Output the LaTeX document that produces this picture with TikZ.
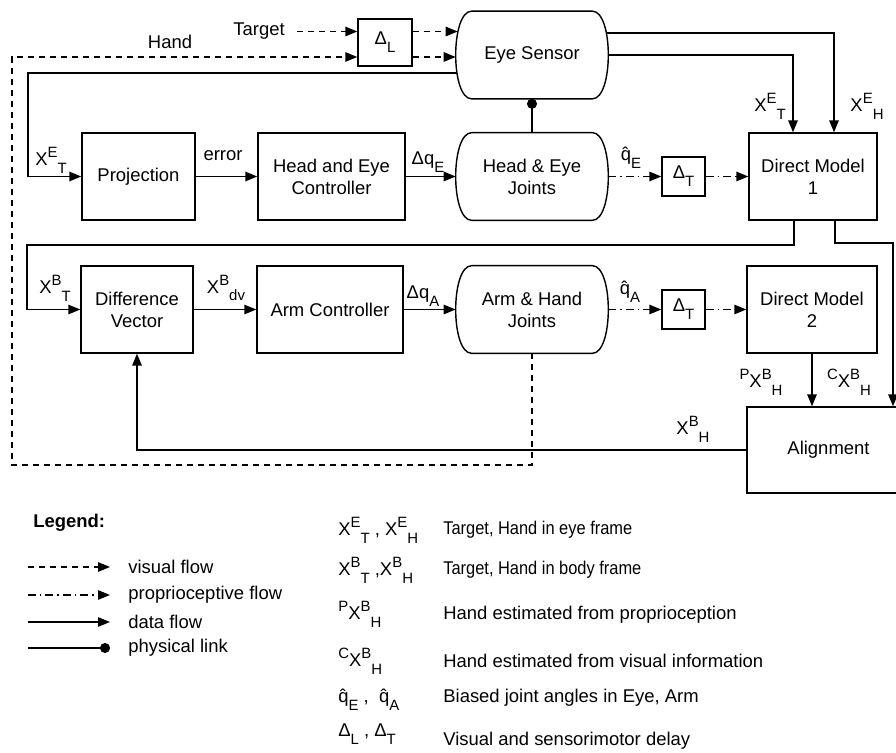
\documentclass[tikz,border=0pt]{standalone}
\usepackage{fontspec}
\setmainfont{Liberation Sans}
\usepackage{tikz}
\usetikzlibrary{arrows.meta,calc}

% raised and lowered indices, as in the figure
\newcommand{\supx}[1]{\raisebox{4.5pt}{\fontsize{8.5}{9}\selectfont #1}}
\newcommand{\subx}[1]{\raisebox{-4.5pt}{\fontsize{8.5}{9}\selectfont #1}}
% outline of a joint block: flat top and bottom, bulging sides
\newcommand{\jointedge}[1]{%
	\draw[line width=0.8pt] ($(#1.north west)+(16,0)$) -- ($(#1.north east)+(-16,0)$)
		.. controls +(21.3,0) and +(21.3,0) .. ($(#1.south east)+(-16,0)$)
		-- ($(#1.south west)+(16,0)$)
		.. controls +(-21.3,0) and +(-21.3,0) .. ($(#1.north west)+(16,0)$);}

\tikzset{
	block/.style={draw, line width=0.8pt, minimum height=1.74cm, inner sep=0pt, align=center},
	joint/.style={minimum width=3.04cm, minimum height=1.74cm, inner sep=0pt, align=center},
	delay/.style={draw, line width=0.8pt, minimum width=0.86cm, minimum height=0.78cm, inner sep=0pt},
	lbl/.style={inner sep=0pt},
	arrowtip/.style={-{Triangle[length=0.24cm,width=0.19cm]}},
	dataflow/.style={line width=0.8pt, arrowtip},
	visflow/.style={dataflow, dash pattern=on 0.12cm off 0.1cm},
	propflow/.style={dataflow, dash pattern=on 0.16cm off 0.08cm on 0.03cm off 0.08cm},
	physlink/.style={line width=0.8pt, -{Circle[length=0.2cm]}},
}

\begin{document}
\begin{tikzpicture}[x=0.02cm, y=-0.02cm, font=\fontsize{10.5}{12.6}\selectfont]
		\useasboundingbox (0,0) rectangle (896,753);
		\clip (0,0) rectangle (896,753);
		
		% eye loop
		\node[delay, minimum width=1.08cm, minimum height=0.94cm] (dl) at (385,42.5) {Δ\subx{L}};
		\node[joint] (es) at (532,55) {Eye Sensor};
		\node[block, minimum width=2.26cm] (proj) at (138.5,176.5) {Projection};
		\node[block, minimum width=2.94cm] (hec) at (331.5,176.5) {Head and Eye\\Controller};
		\node[joint] (hej) at (532,176.5) {Head \& Eye\\Joints};
		\node[delay] (dt1) at (683.5,176.5) {Δ\subx{T}};
		\node[block, minimum width=2.56cm] (dm1) at (813,176.5) {Direct Model\\1};
		
		% arm loop
		\node[block, minimum width=2.24cm] (dv) at (137,309.5) {Difference\\Vector};
		\node[block, minimum width=2.92cm] (ac) at (330,309.5) {Arm Controller};
		\node[joint] (ahj) at (532,309.5) {Arm \& Hand\\Joints};
		\node[delay] (dt2) at (683.5,309.5) {Δ\subx{T}};
		\node[block, minimum width=2.6cm] (dm2) at (812,309.5) {Direct Model\\2};
		\node[block, minimum width=3.26cm, minimum height=1.72cm] (align) at (828.5,450) {Alignment};
		\jointedge{es}
		\jointedge{hej}
		\jointedge{ahj}
		
		% inputs
		\node[lbl] (target) at (259,31.5) {Target};
		\node[lbl] (hand) at (170,42) {Hand};
		\coordinate (hdl) at (12,57);
		\coordinate (vbot) at (12,465);
		\draw[visflow] ($(target.east)+(12,0)$) -- (target -| dl.west);
		\draw[visflow] (target -| dl.east) -- ($(target -| es.west)+(2,0)$);
		\draw[visflow] (ahj.south) |- (vbot) -- (hdl) -- (hdl -| dl.west);
		\draw[visflow] (hdl -| dl.east) -- (hdl -| es.west);
		
		% eye sensor outputs
		\coordinate (ltop) at (28,73);
		\draw[dataflow] ($(ltop -| es.west)+(1,0)$) -- (ltop) |- (proj.west);
		\draw[dataflow] (es.east) -| ($(dm1.north)+(-20,0)$);
		\draw[dataflow] ($(es.east)+(-2.5,-22)$) -| ($(dm1.north)+(21,0)$);
		\draw[physlink] (hej.north) -- (hej.north |- es.south);
		
		% eye chain
		\draw[dataflow] (proj) -- (hec);
		\draw[dataflow] (hec) -- (hej);
		\draw[propflow] (hej) -- (dt1);
		\draw[propflow] (dt1) -- (dm1);
		
		% direct model 1 outputs
		\coordinate (lmid) at (27,245);
		\coordinate (rmid) at (893,243);
		\draw[dataflow] ($(dm1.south)+(-19,0)$) |- (lmid) |- (dv.west);
		\draw[dataflow] ($(dm1.south)+(22,0)$) |- (rmid) -- (rmid |- align.north);
		
		% arm chain
		\draw[dataflow] (dv) -- (ac);
		\draw[dataflow] (ac) -- (ahj);
		\draw[propflow] (ahj) -- (dt2);
		\draw[propflow] (dt2) -- (dm2);
		\draw[dataflow] (dm2.south) -- (dm2.south |- align.north);
		\draw[dataflow] (align.west) -| (dv.south);
		
		% signal labels
		\node[lbl] (xet1) at (51,160) {X\supx{E}\subx{T}};
		\node[lbl] (err) at (223,156) {error};
		\node[lbl] (dqe) at (428,162) {Δq\subx{E}};
		\node[lbl] (qe) at (631,158) {\^q\subx{E}};
		\node[lbl] (xet2) at (770,106) {X\supx{E}\subx{T}};
		\node[lbl] (xeh) at (867,106) {X\supx{E}\subx{H}};
		\node[lbl] (xbt) at (55,288) {X\supx{B}\subx{T}};
		\node[lbl] (xbdv) at (226,288) {X\supx{B}\subx{dv}};
		\node[lbl] (dqa) at (423,296) {Δq\subx{A}};
		\node[lbl] (qa) at (630,292) {\^q\subx{A}};
		\node[lbl] (pxbh) at (761,382) {\supx{P}X\supx{B}\subx{H}};
		\node[lbl] (cxbh) at (849,382) {\supx{C}X\supx{B}\subx{H}};
		\node[lbl] (xbh) at (693,429) {X\supx{B}\subx{H}};
		
		% legend
		\node[lbl, anchor=west] (legend) at (33,523) {\bfseries Legend:};
		\node[lbl, anchor=west] (lvis) at (128,567) {visual flow};
		\node[lbl, anchor=west] (lprop) at (128,595) {proprioceptive flow};
		\node[lbl, anchor=west] (ldata) at (128,622) {data flow};
		\node[lbl, anchor=west] (lphys) at (128,648) {physical link};
		\coordinate (lv) at (28,567);
		\coordinate (lp) at (28,595);
		\coordinate (ld) at (28,622);
		\coordinate (lk) at (28,648);
		\draw[visflow] (lv) -- ($(lvis.west)+(-18,0)$);
		\draw[propflow] (lp) -- ($(lprop.west)+(-18,0)$);
		\draw[dataflow] (ld) -- ($(ldata.west)+(-18,0)$);
		\draw[physlink] (lk) -- ($(lphys.west)+(-18,0)$);
		
		% symbols
		\node[lbl, anchor=west] (s1) at (338,530) {X\supx{E}\subx{T} , X\supx{E}\subx{H}};
		\node[lbl, anchor=west] (s2) at (338,570) {X\supx{B}\subx{T} ,X\supx{B}\subx{H}};
		\node[lbl, anchor=west] (s3) at (338,614) {\supx{P}X\supx{B}\subx{H}};
		\node[lbl, anchor=west] (s4) at (338,661) {\supx{C}X\supx{B}\subx{H}};
		\node[lbl, anchor=west] (s5) at (338,700) {\^q\subx{E} ,\ \ \^q\subx{A}};
		\node[lbl, anchor=west] (s6) at (338,734) {Δ\subx{L} , Δ\subx{T}};
		\node[lbl, anchor=west] (d1) at (443,530) {\scalebox{0.89}[1]{Target, Hand in eye frame}};
		\node[lbl, anchor=west] (d2) at (443,570) {\scalebox{0.89}[1]{Target, Hand in body frame}};
		\node[lbl, anchor=west] (d3) at (443,615) {Hand estimated from proprioception};
		\node[lbl, anchor=west] (d4) at (443,661) {Hand estimated from visual information};
		\node[lbl, anchor=west] (d5) at (443,698) {Biased joint angles in Eye, Arm};
		\node[lbl, anchor=west] (d6) at (443,741) {Visual and sensorimotor delay};
		
		\end{tikzpicture}
\end{document}
